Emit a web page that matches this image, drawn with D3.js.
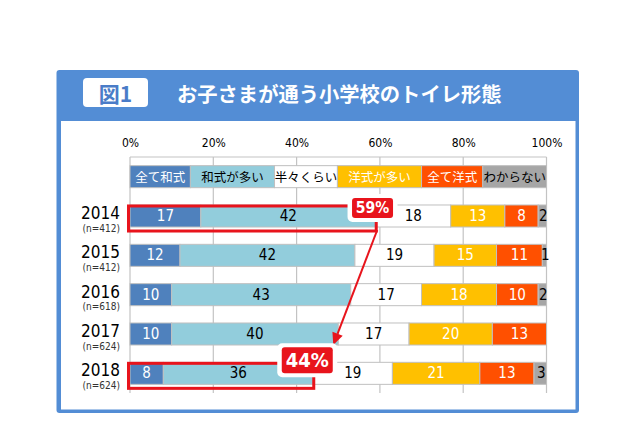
<!DOCTYPE html>
<html><head><meta charset="utf-8">
<script src="https://cdn.jsdelivr.net/npm/d3@7"></script>
<style>
html,body{margin:0;padding:0;background:#fff;}
.num{font-family:'DejaVu Sans Condensed','DejaVu Sans',sans-serif;font-stretch:condensed;}
.jp{font-family:'Noto Sans CJK JP','Noto Sans',sans-serif;}
</style>
</head><body>
<svg id="chart" width="640" height="426"></svg>
<script>
// ---- data ----
const categories = ["全て和式","和式が多い","半々くらい","洋式が多い","全て洋式","わからない"];
const years = ["2014","2015","2016","2017","2018"];
const sampleSizes = ["(n=412)","(n=412)","(n=618)","(n=624)","(n=624)"];
const allJapanese    = [17,12,10,10,8];
const mostlyJapanese = [42,42,43,40,36];
const halfHalf       = [18,19,17,17,19];
const mostlyWestern  = [13,15,18,20,21];
const allWestern     = [8,11,10,13,13];
const unknown        = [2,1,2,0,3];
const xTicks = [0,20,40,60,80,100];
const highlightYears = ["2014","2018"];
const figLabel = "図1";
const title = "お子さまが通う小学校のトイレ形態";

// ---- style / layout ----
const colors = ["#4f81bd","#92cddc","#ffffff","#ffc000","#ff5000","#a6a6a6"];
const textColors = ["#fff","#000","#000","#fff","#fff","#000"];
const legendEdges = [0,14.5,34.7,49.8,70,84.7,100];
const red = "#e8141c";

const series = [allJapanese,mostlyJapanese,halfHalf,mostlyWestern,allWestern,unknown];
const rows = years.map((yr,i)=>{const o={year:yr,n:sampleSizes[i]};categories.forEach((c,j)=>o[c]=series[j][i]);return o;});
const stacked = d3.stack().keys(categories)(rows);

const svg = d3.select("#chart");

// frame
svg.append("rect").attr("x",56.5).attr("y",70).attr("width",522.5).attr("height",343).attr("rx",3).attr("fill","#538dd5");
svg.append("rect").attr("x",61).attr("y",121).attr("width",514.5).attr("height",288.5).attr("fill","#fff");
svg.append("rect").attr("x",83).attr("y",78).attr("width",65).attr("height",29).attr("rx",4).attr("fill","#fff");
svg.append("text").attr("class","jp").attr("x",115.5).attr("y",93).attr("text-anchor","middle")
  .attr("dominant-baseline","central").attr("font-size",21).attr("font-weight","bold").attr("fill","#4a7cc8").text(figLabel);
svg.append("text").attr("class","jp").attr("x",177).attr("y",93)
  .attr("dominant-baseline","central").attr("font-size",20.3).attr("font-weight","bold").attr("fill","#fff").text(title);

const x = d3.scaleLinear().domain([0,100]).range([130,546.5]);
const y = d3.scaleBand().domain(["legend",...years]).range([157,393]).paddingInner(0.44).paddingOuter(0.22);
const bw = y.bandwidth();

// gridlines
const grid = svg.append("g");
grid.selectAll("line.v").data(xTicks).join("line").attr("class","v")
  .attr("x1",d=>x(d)).attr("x2",d=>x(d)).attr("y1",157).attr("y2",393)
  .attr("stroke","#c3c3c3").attr("stroke-width",1.2);
grid.append("line").attr("x1",x(0)).attr("x2",x(100)).attr("y1",157).attr("y2",157)
  .attr("stroke","#c3c3c3").attr("stroke-width",1.2);

// axis
const ax = svg.append("g").attr("transform","translate(0,157)")
  .call(d3.axisTop(x).tickValues(xTicks).tickFormat(d=>d+"%").tickSize(0).tickPadding(10.5));
ax.select(".domain").remove();
ax.selectAll("text").attr("class","num").attr("font-size",12).attr("fill","#000");

// legend
const lg = svg.append("g");
categories.forEach((c,i)=>{
  const x0=x(legendEdges[i]), x1=x(legendEdges[i+1]);
  lg.append("rect").attr("x",x0).attr("y",y("legend")).attr("width",x1-x0).attr("height",bw)
    .attr("fill",colors[i]).attr("stroke","#bfbfbf").attr("stroke-width",1);
  lg.append("text").attr("class","jp").attr("x",(x0+x1)/2).attr("y",y("legend")+bw/2)
    .attr("text-anchor","middle").attr("dominant-baseline","central").attr("font-size",12.5)
    .attr("fill",textColors[i]).text(c);
});

// bars
stacked.forEach((s,j)=>{
  const g = svg.append("g");
  g.selectAll("rect").data(s).join("rect")
    .attr("x",d=>x(d[0])).attr("y",d=>y(d.data.year)).attr("width",d=>x(d[1])-x(d[0])).attr("height",bw)
    .attr("fill",colors[j]).attr("stroke","#c0c0c0").attr("stroke-width",1)
    .attr("display",d=>d[1]-d[0]>0?null:"none");
  g.selectAll("text").data(s.filter(d=>d[1]-d[0]>0)).join("text").attr("class","num")
    .attr("x",d=>(x(d[0])+x(d[1]))/2+(j===5?1:0)).attr("y",d=>y(d.data.year)+bw/2)
    .attr("text-anchor","middle").attr("dominant-baseline","central").attr("font-size",15)
    .attr("fill",textColors[j]).text(d=>d[1]-d[0]);
});

// year labels
const yl = svg.append("g");
rows.forEach(r=>{
  const cy = y(r.year)+bw/2;
  yl.append("text").attr("class","num").attr("x",120).attr("y",cy+3).attr("text-anchor","end")
    .attr("font-size",17).attr("fill","#000").text(r.year);
  yl.append("text").attr("class","num").attr("x",120).attr("y",cy+15.5).attr("text-anchor","end")
    .attr("font-size",10).attr("fill","#333").text(r.n);
});

// highlights
const share = yr => { const i=years.indexOf(yr); return allJapanese[i]+mostlyJapanese[i]; };
const ann = svg.append("g");
highlightYears.forEach(yr=>{
  const v = share(yr);
  ann.append("rect").attr("x",x(0)-1.5).attr("y",y(yr)+1).attr("width",x(v)+0.5-(x(0)-1.5)).attr("height",bw+3)
    .attr("fill","none").attr("stroke",red).attr("stroke-width",3);
});

// arrow
const v0 = share(highlightYears[0]), v1 = share(highlightYears[1]);
const sx = x(v0)+1.5, sy = y(highlightYears[0])+bw+3;
const tx = x(v1)+20, ty = y("2017")+bw;
const dx = tx-sx, dy = ty-sy, L = Math.hypot(dx,dy), ux=dx/L, uy=dy/L;
const hl = 12, hw = 5.5;
const bx = tx-ux*hl, by = ty-uy*hl;
ann.append("line").attr("x1",sx).attr("y1",sy).attr("x2",bx).attr("y2",by).attr("stroke",red).attr("stroke-width",2);
ann.append("path").attr("d",`M${tx},${ty}L${bx-uy*hw},${by+ux*hw}L${bx+uy*hw},${by-ux*hw}Z`).attr("fill",red);

// label boxes
function badge(cx,cy,w,h,fs,txt){
  ann.append("rect").attr("x",cx-w/2-4.5).attr("y",cy-h/2-4).attr("width",w+9).attr("height",h+8).attr("rx",5).attr("fill","#fff");
  ann.append("rect").attr("x",cx-w/2).attr("y",cy-h/2).attr("width",w).attr("height",h).attr("rx",3).attr("fill",red);
  ann.append("text").attr("class","num").attr("x",cx).attr("y",cy).attr("text-anchor","middle")
    .attr("dominant-baseline","central").attr("font-size",fs).attr("font-weight","bold").attr("fill","#fff").text(txt);
}
badge(x(v0)-3.2, y(highlightYears[0])+3, 41, 20, 15.5, v0+"%");
badge(x(v1)-6, y(highlightYears[1])-2, 51, 26, 20, v1+"%");
</script>
</body></html>
